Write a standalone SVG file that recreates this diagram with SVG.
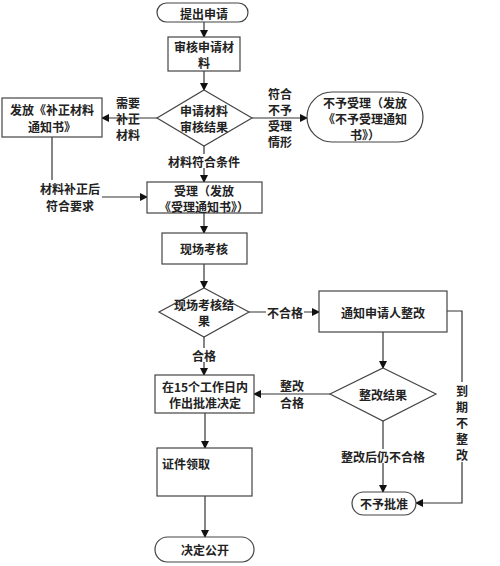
<svg xmlns="http://www.w3.org/2000/svg" width="500" height="566" viewBox="0 0 500 566">
<defs>
<marker id="ah" markerWidth="8" markerHeight="8" refX="7" refY="4" orient="auto" markerUnits="userSpaceOnUse">
<path d="M0,0 L8,4 L0,8 Z" fill="#111"/>
</marker>
<style>
.n{fill:#fff;stroke:#444;stroke-width:1.2}
.t{font-family:"Noto Sans CJK SC","Liberation Serif",serif;font-size:12px;font-weight:bold;fill:#222;text-anchor:middle;dominant-baseline:central}
.c{fill:none;stroke:#333;stroke-width:1.2}
.a{marker-end:url(#ah)}
.bg{fill:#fff;stroke:none}
</style>
</defs>
<rect width="500" height="566" fill="#fff"/>
<g id="connectors">
<line class="c a" x1="204" y1="22" x2="204" y2="37"/>
<line class="c a" x1="204" y1="71" x2="204" y2="90"/>
<line class="c a" x1="157" y1="118" x2="102" y2="118"/>
<line class="c a" x1="252" y1="118" x2="307" y2="118"/>
<line class="c a" x1="204" y1="146" x2="204" y2="182"/>
<line class="c" x1="52" y1="137" x2="52" y2="180"/>
<line class="c a" x1="102" y1="197" x2="147" y2="197"/>
<line class="c a" x1="204" y1="213" x2="204" y2="233"/>
<line class="c a" x1="204" y1="264" x2="204" y2="288"/>
<line class="c a" x1="249" y1="312" x2="319" y2="312"/>
<line class="c a" x1="204" y1="337" x2="204" y2="375"/>
<line class="c a" x1="383" y1="332" x2="383" y2="368"/>
<line class="c a" x1="330" y1="394" x2="254" y2="394"/>
<line class="c a" x1="383" y1="421" x2="383" y2="492"/>
<polyline class="c a" points="447,311 462,311 462,503 416,503"/>
<line class="c a" x1="205" y1="413" x2="205" y2="448"/>
<line class="c a" x1="205" y1="496" x2="205" y2="537"/>
<rect class="bg" x="167" y="154" width="74" height="14"/>
<rect class="bg" x="266" y="305" width="38" height="14"/>
<rect class="bg" x="191" y="348" width="26" height="14"/>
<rect class="bg" x="340" y="449" width="86" height="14"/>
<rect class="bg" x="455" y="382" width="14" height="80"/>
<g class="t">
<text x="128" y="102">需要</text>
<text x="128" y="118">补正</text>
<text x="128" y="134">材料</text>
<text x="280" y="93">符合</text>
<text x="280" y="109">不予</text>
<text x="280" y="125">受理</text>
<text x="280" y="141">情形</text>
<text x="204" y="161">材料符合条件</text>
<text x="70" y="188">材料补正后</text>
<text x="70" y="205">符合要求</text>
<text x="285" y="312">不合格</text>
<text x="204" y="355">合格</text>
<text x="292" y="385">整改</text>
<text x="292" y="402">合格</text>
<text x="383" y="456">整改后仍不合格</text>
<text x="462" y="390">到</text>
<text x="462" y="406">期</text>
<text x="462" y="422">不</text>
<text x="462" y="438">整</text>
<text x="462" y="454">改</text>
</g>
</g>
<g id="start">
<rect class="n" x="157" y="3" width="91" height="19" rx="9.5"/>
<text class="t" x="204" y="13">提出申请</text>
</g>
<g id="review">
<rect class="n" x="168" y="37" width="72" height="34"/>
<text class="t" x="204" y="46">审核申请材</text>
<text class="t" x="204" y="62">料</text>
</g>
<g id="review-result">
<polygon class="n" points="204,90 252,118 204,146 157,118"/>
<text class="t" x="204" y="110">申请材料</text>
<text class="t" x="204" y="126">审核结果</text>
</g>
<g id="supplement">
<rect class="n" x="2" y="98" width="100" height="39"/>
<text class="t" x="52" y="109">发放《补正材料</text>
<text class="t" x="52" y="126">通知书》</text>
</g>
<g id="reject">
<rect class="n" x="307" y="92" width="116" height="50" rx="25"/>
<text class="t" x="365" y="102">不予受理（发放</text>
<text class="t" x="365" y="118">《不予受理通知</text>
<text class="t" x="365" y="134">书》）</text>
</g>
<g id="accept">
<rect class="n" x="147" y="182" width="115" height="31"/>
<text class="t" x="204" y="190">受理（发放</text>
<text class="t" x="204" y="206">《受理通知书》）</text>
</g>
<g id="inspect">
<rect class="n" x="162" y="233" width="85" height="31"/>
<text class="t" x="204" y="248">现场考核</text>
</g>
<g id="inspect-result">
<polygon class="n" points="204,288 249,312 204,337 159,312"/>
<text class="t" x="204" y="304">现场考核结</text>
<text class="t" x="204" y="320">果</text>
</g>
<g id="rectify">
<rect class="n" x="319" y="291" width="128" height="41"/>
<text class="t" x="383" y="312">通知申请人整改</text>
</g>
<g id="rectify-result">
<polygon class="n" points="383,368 436,394 383,421 330,394"/>
<text class="t" x="383" y="394">整改结果</text>
</g>
<g id="decide">
<rect class="n" x="155" y="375" width="99" height="38"/>
<text class="t" x="205" y="386">在15个工作日内</text>
<text class="t" x="205" y="402">作出批准决定</text>
</g>
<g id="deny">
<rect class="n" x="352" y="492" width="64" height="23" rx="11.5"/>
<text class="t" x="384" y="503">不予批准</text>
</g>
<g id="certificate">
<rect class="n" x="157" y="448" width="95" height="48"/>
<text class="t" x="162" y="463" style="text-anchor:start">证件领取</text>
</g>
<g id="publish">
<rect class="n" x="155" y="537" width="99" height="25" rx="12.5"/>
<text class="t" x="205" y="549">决定公开</text>
</g>
</svg>
